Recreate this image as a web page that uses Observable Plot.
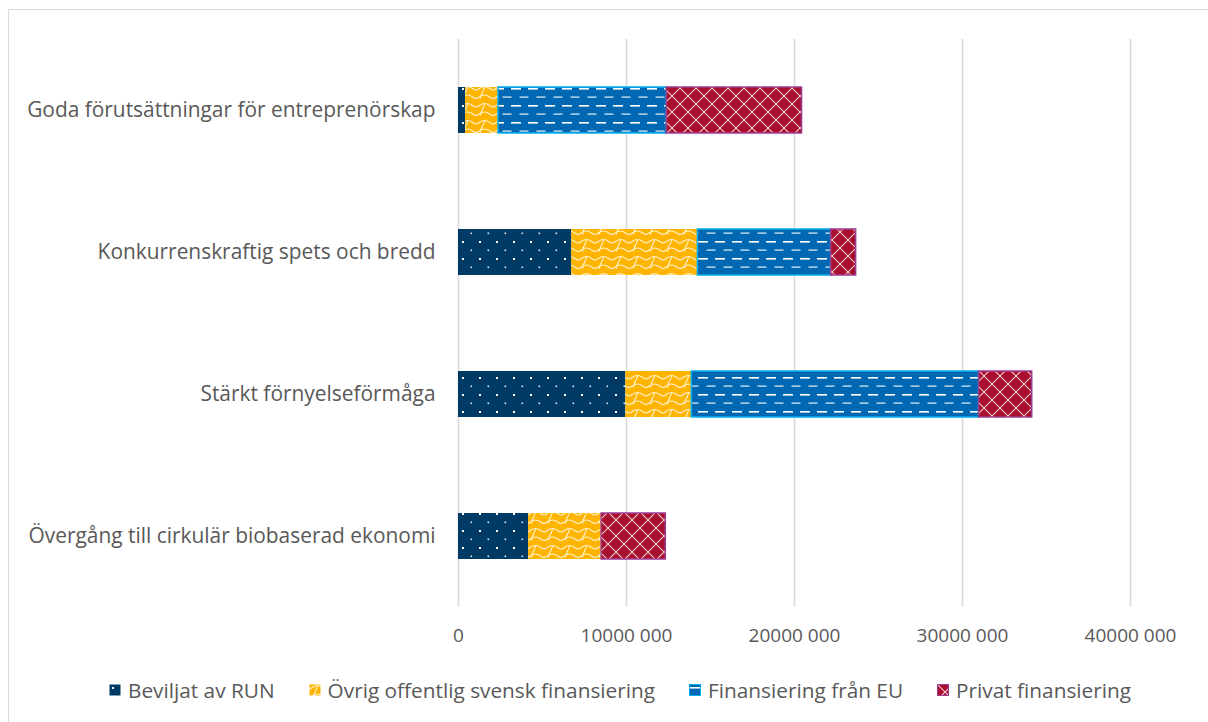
<!DOCTYPE html>
<html>
<head>
<meta charset="utf-8">
<script src="https://cdn.jsdelivr.net/npm/d3@7"></script>
<script src="https://cdn.jsdelivr.net/npm/@observablehq/plot@0.6"></script>
<style>
  html, body { margin: 0; padding: 0; background: #fff; }
  #wrap { position: relative; width: 1208px; height: 722px; overflow: hidden; font-family: "Open Sans", sans-serif; color: #595959; }
  #frame { position: absolute; left: 8px; top: 9px; width: 1210px; height: 730px; border: 1.5px solid #d9d9d9; box-sizing: border-box; }
  #chart { position: absolute; left: 0; top: 0; }
  #legend { position: absolute; left: 0; width: 1240px; top: 676px; display: flex; justify-content: center; gap: 34px; font-size: 20.8px; }
  .item { display: flex; align-items: center; }
  .item svg { margin-right: 7px; }
</style>
</head>
<body>
<svg width="0" height="0" style="position:absolute">
  <defs>
    <pattern id="pRUN" patternUnits="userSpaceOnUse" width="17" height="17">
      <rect width="17" height="17" fill="#003B65"/>
      <rect x="3" y="3" width="2" height="2" fill="#fff"/>
      <rect x="11.5" y="11.5" width="1.6" height="1.6" fill="#dfe6ee"/>
    </pattern>
    <pattern id="pOVR" patternUnits="userSpaceOnUse" width="17" height="17">
      <rect width="17" height="17" fill="#FFB400"/>
      <path d="M0,5 C3,5 4,1.5 8.5,1.5 C13,1.5 14,5 17,5 M8.5,1.5 C8.5,6 4.5,8 4.5,13.5 M0,13.5 C3,13.5 4,10 8.5,10 C13,10 14,13.5 17,13.5" fill="none" stroke="#fff2cc" stroke-width="1.1"/>
    </pattern>
    <pattern id="pEU" patternUnits="userSpaceOnUse" width="17" height="17">
      <rect width="17" height="17" fill="#0068B3"/>
      <rect x="1" y="3" width="10" height="1.6" fill="#fff"/>
      <rect x="9.5" y="11.5" width="9" height="1.2" fill="#e6f0f8"/>
      <rect x="-7.5" y="11.5" width="9" height="1.2" fill="#e6f0f8"/>
    </pattern>
    <pattern id="pPRV" patternUnits="userSpaceOnUse" width="16" height="16">
      <rect width="16" height="16" fill="#A8102E"/>
      <path d="M0,0 L16,16 M16,0 L0,16" stroke="#f3c9d1" stroke-width="1.1"/>
    </pattern>
  </defs>
</svg>
<div id="wrap">
  <div id="frame"></div>
  <div id="chart"></div>
  <div id="legend"></div>
</div>
<script>
const categories = [
  "Goda förutsättningar för entreprenörskap",
  "Konkurrenskraftig spets och bredd",
  "Stärkt förnyelseförmåga",
  "Övergång till cirkulär biobaserad ekonomi"
];
const seriesNames = [
  "Beviljat av RUN",
  "Övrig offentlig svensk finansiering",
  "Finansiering från EU",
  "Privat finansiering"
];
const beviljatRUN   = [420000, 6740000, 9960000, 4170000];
const ovrigOffentlig = [1960000, 7510000, 3930000, 4350000];
const finansieringEU = [10020000, 7930000, 17100000, 0];
const privat        = [8050000, 1490000, 3160000, 3820000];
const xTicks = [0, 10000000, 20000000, 30000000, 40000000];
const xTickLabels = ["0", "10000 000", "20000 000", "30000 000", "40000 000"];

const fills = ["url(#pRUN)", "url(#pOVR)", "url(#pEU)", "url(#pPRV)"];
const strokes = ["none", "none", "#00B0F0", "#9C3C91"];
const valuesBySeries = [beviljatRUN, ovrigOffentlig, finansieringEU, privat];

const table = [];
categories.forEach((c, ci) => {
  seriesNames.forEach((s, si) => {
    table.push({category: c, series: s, si, value: valuesBySeries[si][ci]});
  });
});

const chart = Plot.plot({
  width: 1208,
  height: 660,
  marginLeft: 458,
  marginRight: 78,
  marginTop: 39,
  marginBottom: 53,
  style: {fontFamily: "'Open Sans', sans-serif", fontSize: "18px", color: "#595959", background: "transparent"},
  x: {domain: [0, 40000000], ticks: xTicks, tickFormat: (d) => xTickLabels[xTicks.indexOf(d)], tickSize: 0, label: null},
  y: {domain: categories, paddingInner: 0.676, paddingOuter: 0.338, tickSize: 0, label: null},
  color: {type: "identity"},
  marks: [
    Plot.ruleX(xTicks, {stroke: "#d9d9d9", strokeWidth: 1.6}),
    Plot.barX(table, Plot.stackX({
      x: "value", y: "category", z: "series",
      fill: (d) => fills[d.si],
      stroke: (d) => strokes[d.si],
      strokeWidth: 1.5
    })),
    Plot.axisX({ticks: xTicks, tickFormat: (d) => xTickLabels[xTicks.indexOf(d)], tickSize: 0, tickPadding: 21, fontSize: 19, fill: "#595959", label: null}),
    Plot.axisY({tickSize: 0, tickPadding: 23, fontSize: 20.9, fill: "#595959", label: null})
  ]
});
document.getElementById("chart").appendChild(chart);

const legend = document.getElementById("legend");
seriesNames.forEach((s, i) => {
  const item = document.createElement("div");
  item.className = "item";
  item.innerHTML = `<svg width="12" height="12"><rect x="0.5" y="0.5" width="11" height="11" fill="${fills[i]}" stroke="${strokes[i] === 'none' ? 'none' : strokes[i]}" stroke-width="1"/></svg><span>${s}</span>`;
  legend.appendChild(item);
});
</script>
</body>
</html>
